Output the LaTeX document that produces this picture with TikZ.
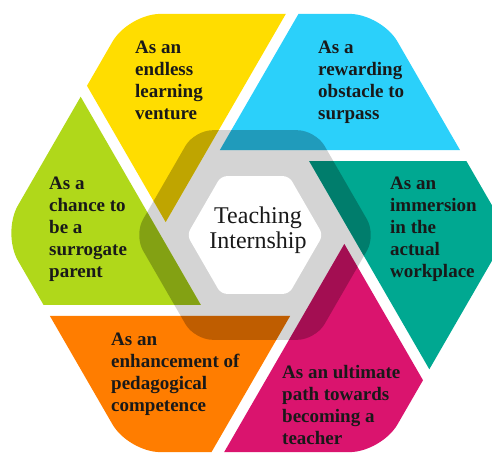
\documentclass[tikz,border=0pt]{standalone}
\usepackage{fontspec}
\setmainfont{Liberation Serif}
\definecolor{yellowpart}{RGB}{255,221,0}
\definecolor{cyanpart}{RGB}{43,208,250}
\definecolor{tealpart}{RGB}{0,168,145}
\definecolor{magentapart}{RGB}{218,20,110}
\definecolor{orangepart}{RGB}{255,125,0}
\definecolor{greenpart}{RGB}{176,216,26}
\definecolor{ringgrey}{RGB}{212,212,212}
\definecolor{textdark}{RGB}{25,25,25}

\begin{document}
\begin{tikzpicture}[x=1pt,y=1pt]
    \def\ro{253}
    \def\ao{219}
    \def\rv{90}
    \def\rg{121}
    \def\rw{68}

    \tikzstyle{parttext}=[anchor=north west,inner sep=0pt,align=left,text=textdark,font=\bfseries\fontsize{19}{22}\selectfont]
    \tikzstyle{centretext}=[inner sep=0pt,align=center,text=textdark,font=\fontsize{24}{25}\selectfont]
    \tikzstyle{ringshade}=[fill=black,opacity=0.25]

    \useasboundingbox (-255,-220) rectangle (237,233);
    \clip (-255,-220) rectangle (237,233);

    \fill[ringgrey,rounded corners=18pt,shift={(0,-2)}] (30:0.866*\rg) \foreach \a in {60,120,...,360} { -- (\a:\rg) } -- cycle;

    \foreach \col [count=\k from 0] in {yellowpart,greenpart,orangepart,magentapart,tealpart,cyanpart} {
      \begin{scope}
        \clip[rounded corners=32pt] (30:\ao) \foreach \a in {60,120,...,360} { -- (\a:\ro) } -- cycle;
        \fill[\col] (173+60*\k:\rv) -- ++(60+60*\k:400) -- ++(180+60*\k:400) -- cycle;
      \end{scope}
      \begin{scope}
        \clip (173+60*\k:\rv) -- ++(60+60*\k:400) -- ++(180+60*\k:400) -- cycle;
        \fill[ringshade,rounded corners=18pt,shift={(0,-2)}] (30:0.866*\rg) \foreach \a in {60,120,...,360} { -- (\a:\rg) } -- cycle;
      \end{scope}
    }

    \fill[white,rounded corners=6pt,shift={(0,-2)}] (30:0.866*\rw) \foreach \a in {60,120,...,360} { -- (\a:\rw) } -- cycle;

    \node[parttext] (endless) at (-120,192) {As an\\endless\\learning\\venture};
    \node[parttext] (obstacle) at (63,192) {As a\\rewarding\\obstacle to\\surpass};
    \node[parttext] (parent) at (-206,56) {As a\\chance to\\be a\\surrogate\\parent};
    \node[parttext] (workplace) at (135,56) {As an\\immersion\\in the\\actual\\workplace};
    \node[parttext] (competence) at (-144,-100) {As an\\enhancement of\\pedagogical\\competence};
    \node[parttext] (teacher) at (27,-132) {As an ultimate\\path towards\\becoming a\\teacher};
    \node[centretext] (internship) at (3,3) {Teaching\\Internship};

\end{tikzpicture}
\end{document}
